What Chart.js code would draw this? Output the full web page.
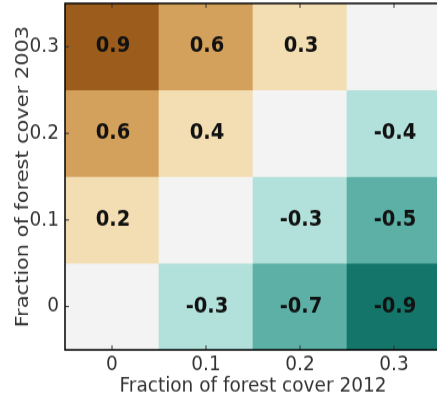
<!DOCTYPE html>
<html>
<head>
<meta charset="utf-8">
<script src="https://cdn.jsdelivr.net/npm/chart.js@4.4.0/dist/chart.umd.min.js"></script>
<style>
  html, body { margin: 0; padding: 0; background: #fff; overflow: hidden; }
  #chart { display: block; }
</style>
</head>
<body>
<!-- the reference is stretched a bit vertically, so the canvas is stretched the same way -->
<canvas id="chart" width="441" height="350" style="width:441px;height:395px"></canvas>
<script>
// forest cover change, 2012 fraction on x, 2003 fraction on y
const cover2012 = ['0', '0.1', '0.2', '0.3'];
const cover2003 = [0.3, 0.2, 0.1, 0];
const row03 = [0.9, 0.6, 0.3, 0];
const row02 = [0.6, 0.4, 0, -0.4];
const row01 = [0.2, 0, -0.3, -0.5];
const row00 = [0, -0.3, -0.7, -0.9];
const rows = [row03, row02, row01, row00];
const yTicks = [0, 0.1, 0.2, 0.3];

const FONT = "'DejaVu Sans', sans-serif";

function cellColor(v) {
  if (v >= 0.8) return '#9c5c1c';
  if (v >= 0.5) return '#d4a15c';
  if (v > 0.05) return '#f2deb2';
  if (v > -0.05) return '#f3f3f3';
  if (v > -0.45) return '#b2e0da';
  if (v > -0.8) return '#5cb0a6';
  return '#14766a';
}

const datasets = rows.map((vals, i) => ({
  label: String(cover2003[i]),
  data: vals.map(() => [cover2003[i] - 0.05, cover2003[i] + 0.05]),
  values: vals,
  backgroundColor: vals.map(cellColor),
  borderWidth: 0,
  grouped: false,
  categoryPercentage: 1,
  barPercentage: 1
}));

const cellLabels = {
  id: 'cellLabels',
  afterDatasetsDraw(chart) {
    const ctx = chart.ctx;
    ctx.save();
    ctx.font = 'bold 19.5px ' + FONT;
    ctx.fillStyle = '#111';
    ctx.textAlign = 'center';
    ctx.textBaseline = 'middle';
    chart.data.datasets.forEach((ds, i) => {
      chart.getDatasetMeta(i).data.forEach((bar, j) => {
        const v = ds.values[j];
        if (v === 0) return;
        ctx.fillText(String(v), bar.x + 1, (bar.y + bar.base) / 2);
      });
    });
    ctx.restore();
  }
};

// axes frame and the small inward ticks
const frame = {
  id: 'frame',
  afterDraw(chart) {
    const { ctx, chartArea: a, scales } = chart;
    ctx.save();
    ctx.strokeStyle = '#333';
    ctx.lineWidth = 1;
    ctx.beginPath();
    scales.x.ticks.forEach((t, i) => {
      const x = scales.x.getPixelForTick(i);
      ctx.moveTo(x, a.bottom); ctx.lineTo(x, a.bottom - 4);
      ctx.moveTo(x, a.top); ctx.lineTo(x, a.top + 4);
    });
    yTicks.forEach(v => {
      const y = scales.y.getPixelForValue(v);
      ctx.moveTo(a.left, y); ctx.lineTo(a.left + 4, y);
    });
    ctx.stroke();
    ctx.strokeStyle = '#000';
    ctx.lineWidth = 1.5;
    ctx.beginPath();
    ctx.moveTo(a.right, a.top);
    ctx.lineTo(a.left, a.top);
    ctx.lineTo(a.left, a.bottom);
    ctx.lineTo(a.right, a.bottom);
    ctx.stroke();
    ctx.restore();
  }
};

new Chart(document.getElementById('chart'), {
  type: 'bar',
  data: { labels: cover2012, datasets },
  options: {
    responsive: false,
    animation: false,
    layout: { padding: { top: 3, right: 0, bottom: 0, left: 0 } },
    plugins: { legend: { display: false }, tooltip: { enabled: false } },
    scales: {
      x: {
        grid: { display: false, drawTicks: false },
        border: { display: false },
        ticks: { color: '#333', padding: 4, font: { family: FONT, size: 18.5, lineHeight: 1 } },
        title: {
          display: true, text: 'Fraction of forest cover 2012', color: '#333',
          padding: { top: 0, bottom: 0 }, font: { family: FONT, size: 18.5, lineHeight: 0.8 }
        },
        afterFit(s) { s.height = 40; s.paddingLeft = 0; s.paddingRight = 0; }
      },
      y: {
        type: 'linear',
        min: -0.05,
        max: 0.35,
        afterBuildTicks(s) { s.ticks = yTicks.map(v => ({ value: v })); },
        grid: { display: false, drawTicks: false },
        border: { display: false },
        ticks: { color: '#333', padding: 6, font: { family: FONT, size: 18.5 }, callback: v => String(v) },
        title: {
          display: true, text: 'Fraction of forest cover 2003', color: '#333',
          padding: { top: 14, bottom: 0 }, font: { family: FONT, size: 18.5, lineHeight: 1 }
        },
        afterFit(s) { s.width = 65; s.paddingTop = 0; s.paddingBottom = 0; }
      }
    }
  },
  plugins: [cellLabels, frame]
});
</script>
</body>
</html>
